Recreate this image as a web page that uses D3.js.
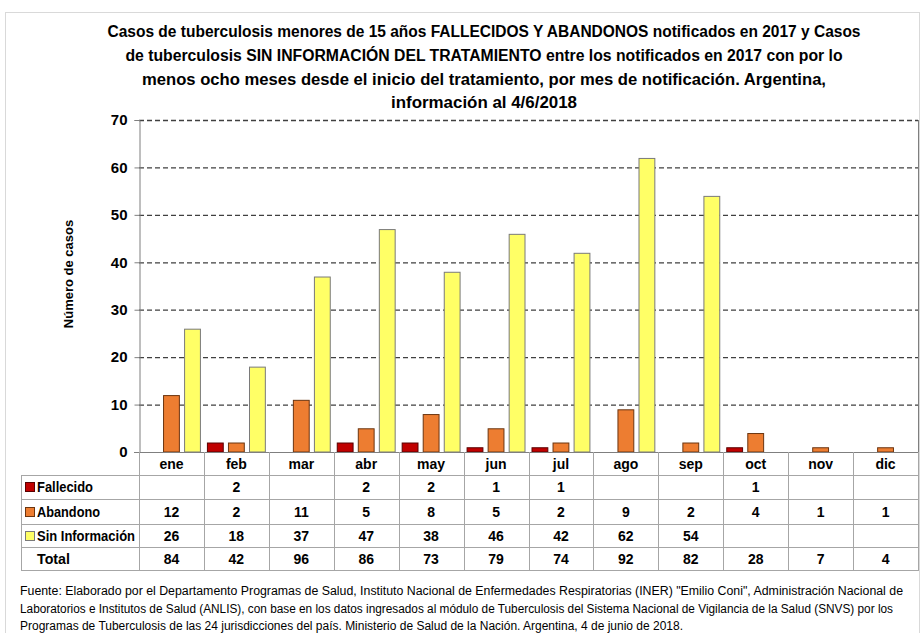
<!DOCTYPE html>
<html>
<head>
<meta charset="utf-8">
<script src="https://cdn.jsdelivr.net/npm/d3@7"></script>
<style>
  body { margin: 0; background: #fff; }
  svg { display: block; }
  text { font-family: "Liberation Sans Narrow", "Liberation Sans", Arial, sans-serif; fill: #000; }
</style>
</head>
<body>
<svg id="chart" width="924" height="633"></svg>
<script>
/* ─── Data ─────────────────────────────────────────────────────────────── */

const MONTHS     = ['ene', 'feb', 'mar', 'abr', 'may', 'jun', 'jul', 'ago', 'sep', 'oct', 'nov', 'dic'];
const FALLECIDO  = [null, 2, null, 2, 2, 1, 1, null, null, 1, null, null];
const ABANDONO   = [12, 2, 11, 5, 8, 5, 2, 9, 2, 4, 1, 1];
const SIN_INFO   = [26, 18, 37, 47, 38, 46, 42, 62, 54, null, null, null];
const TOTAL      = [84, 42, 96, 86, 73, 79, 74, 92, 82, 28, 7, 4];
const Y_TICKS    = [0, 10, 20, 30, 40, 50, 60, 70];

const SERIES = [
  { name: 'Fallecido',        values: FALLECIDO, color: '#C00000', stroke: '#5a0000' },
  { name: 'Abandono',         values: ABANDONO,  color: '#ED7D31', stroke: '#6b3510' },
  { name: 'Sin Información',  values: SIN_INFO,  color: '#FFFF66', stroke: '#7a7a7a' },
];

const TITLE = [
  'Casos de tuberculosis menores de 15 años FALLECIDOS Y ABANDONOS notificados en 2017 y Casos',
  'de tuberculosis SIN INFORMACIÓN DEL TRATAMIENTO entre los notificados en 2017 con por lo',
  'menos ocho meses desde el inicio del tratamiento, por mes de notificación. Argentina,',
  'información al 4/6/2018',
];

const FOOTER = [
  'Fuente: Elaborado por el Departamento Programas de Salud, Instituto Nacional de Enfermedades Respiratorias (INER) "Emilio Coni", Administración Nacional de',
  'Laboratorios e Institutos de Salud (ANLIS), con base en los datos ingresados al módulo de Tuberculosis del Sistema Nacional de Vigilancia de la Salud (SNVS) por los',
  'Programas de Tuberculosis de las 24 jurisdicciones del país. Ministerio de Salud de la Nación. Argentina,  4 de junio de 2018.',
];

/* ─── Layout ───────────────────────────────────────────────────────────── */

const PLOT = { left: 139, right: 918, top: 120, bottom: 452 };
const TABLE_LEFT = 21;
const ROW_EDGES = [452, 475, 499, 524, 547, 570];
const GRID = '#a6a6a6';

const svg = d3.select('#chart');

// outer frame
svg.append('rect')
  .attr('x', 5.5).attr('y', 12.5).attr('width', 914).attr('height', 640)
  .attr('fill', 'none').attr('stroke', '#d9d9d9');

/* ─── Title ────────────────────────────────────────────────────────────── */

const titleWidths = [753, 717, 684, 186];
const titleBase   = [37, 61, 85, 108];
svg.append('g').selectAll('text')
  .data(TITLE)
  .join('text')
  .attr('x', 484)
  .attr('y', (d, i) => titleBase[i])
  .attr('text-anchor', 'middle')
  .attr('font-size', 16)
  .attr('font-weight', 'bold')
  .attr('textLength', (d, i) => titleWidths[i])
  .attr('lengthAdjust', 'spacingAndGlyphs')
  .text(d => d);

/* ─── Scales ───────────────────────────────────────────────────────────── */

const x0 = d3.scaleBand().domain(MONTHS).range([PLOT.left, PLOT.right]).padding(0);
const x1 = d3.scaleBand().domain(SERIES.map(s => s.name))
  .range([3, x0.bandwidth() - 3]).paddingInner(0.2).paddingOuter(0);
const y = d3.scaleLinear().domain([0, 70]).range([PLOT.bottom, PLOT.top]);

/* ─── Grid + axis ──────────────────────────────────────────────────────── */

svg.append('g').selectAll('line')
  .data(Y_TICKS.filter(t => t > 0))
  .join('line')
  .attr('x1', PLOT.left).attr('x2', PLOT.right)
  .attr('y1', d => y(d) + 0.5).attr('y2', d => y(d) + 0.5)
  .attr('stroke', '#404040').attr('stroke-width', 1.3)
  .attr('stroke-dasharray', '5,3');

const yAxis = svg.append('g')
  .attr('transform', `translate(${PLOT.left + 0.5},0)`)
  .call(d3.axisLeft(y).tickValues(Y_TICKS).tickSize(5).tickPadding(7));
yAxis.select('.domain').attr('stroke', '#7f7f7f');
yAxis.selectAll('.tick line').attr('stroke', '#7f7f7f');
yAxis.selectAll('.tick text')
  .attr('font-size', 15).attr('font-weight', 'bold')
  .attr('font-family', '"Liberation Sans", Arial, sans-serif')
  .attr('fill', '#000');

// right border of plot
svg.append('line')
  .attr('x1', PLOT.right + 0.5).attr('x2', PLOT.right + 0.5)
  .attr('y1', PLOT.top).attr('y2', PLOT.bottom)
  .attr('stroke', '#7f7f7f');

svg.append('text')
  .attr('transform', `translate(73,274) rotate(-90)`)
  .attr('text-anchor', 'middle')
  .attr('font-size', 13)
  .attr('font-weight', 'bold')
  .text('Número de casos');

/* ─── Bars ─────────────────────────────────────────────────────────────── */

const barData = [];
SERIES.forEach(s => s.values.forEach((v, i) => {
  if (v != null) barData.push({ month: MONTHS[i], series: s, value: v });
}));

svg.append('g').selectAll('rect')
  .data(barData)
  .join('rect')
  .attr('x', d => x0(d.month) + x1(d.series.name) + 0.5)
  .attr('y', d => y(d.value) + 0.5)
  .attr('width', x1.bandwidth() - 1)
  .attr('height', d => y(0) - y(d.value) - 0.5)
  .attr('fill', d => d.series.color)
  .attr('stroke', d => d.series.stroke)
  .attr('stroke-width', 1);

/* ─── Data table ───────────────────────────────────────────────────────── */

const table = svg.append('g');
const rows = [
  ...SERIES.map(s => ({ label: s.name, values: s.values, color: s.color, stroke: s.stroke })),
  { label: 'Total', values: TOTAL },
];
const labelWidths = [56, 63, 98, 33];

// horizontal lines
ROW_EDGES.forEach((ry, i) => {
  table.append('line')
    .attr('x1', i === 0 ? PLOT.left - 5 : TABLE_LEFT)
    .attr('x2', PLOT.right + 1)
    .attr('y1', ry + 0.5).attr('y2', ry + 0.5)
    .attr('stroke', i === 0 ? '#7f7f7f' : GRID);
});

// vertical lines at month boundaries
const colEdges = MONTHS.map(m => x0(m)).concat([PLOT.right]);
table.append('g').selectAll('line')
  .data(colEdges)
  .join('line')
  .attr('x1', d => Math.round(d) + 0.5).attr('x2', d => Math.round(d) + 0.5)
  .attr('y1', ROW_EDGES[0]).attr('y2', ROW_EDGES[ROW_EDGES.length - 1])
  .attr('stroke', GRID);

table.append('line')
  .attr('x1', TABLE_LEFT + 0.5).attr('x2', TABLE_LEFT + 0.5)
  .attr('y1', ROW_EDGES[1]).attr('y2', ROW_EDGES[ROW_EDGES.length - 1])
  .attr('stroke', GRID);

// month header
table.append('g').selectAll('text')
  .data(MONTHS)
  .join('text')
  .attr('x', d => x0(d) + x0.bandwidth() / 2)
  .attr('y', (ROW_EDGES[0] + ROW_EDGES[1]) / 2 + 5)
  .attr('text-anchor', 'middle')
  .attr('font-size', 14).attr('font-weight', 'bold')
  .text(d => d);

rows.forEach((r, ri) => {
  const cy = (ROW_EDGES[ri + 1] + ROW_EDGES[ri + 2]) / 2;
  if (r.color) {
    table.append('rect')
      .attr('x', 25.5).attr('y', Math.round(cy - 5) + 0.5)
      .attr('width', 9).attr('height', 9)
      .attr('fill', r.color).attr('stroke', r.stroke);
  }
  table.append('text')
    .attr('x', 37).attr('y', cy + 5)
    .attr('font-size', 14).attr('font-weight', 'bold')
    .attr('textLength', labelWidths[ri])
    .attr('lengthAdjust', 'spacingAndGlyphs')
    .text(r.label);

  table.append('g').selectAll('text')
    .data(r.values.map((v, i) => ({ v, m: MONTHS[i] })).filter(d => d.v != null))
    .join('text')
    .attr('x', d => x0(d.m) + x0.bandwidth() / 2)
    .attr('y', cy + 5)
    .attr('text-anchor', 'middle')
    .attr('font-size', 14).attr('font-weight', 'bold')
    .text(d => d.v);
});

/* ─── Footer ───────────────────────────────────────────────────────────── */

const footWidths = [883, 873, 663];
svg.append('g').selectAll('text')
  .data(FOOTER)
  .join('text')
  .attr('x', 20)
  .attr('y', (d, i) => 595 + i * 17.5)
  .attr('font-size', 12)
  .attr('textLength', (d, i) => footWidths[i])
  .attr('lengthAdjust', 'spacingAndGlyphs')
  .text(d => d);
</script>
</body>
</html>
